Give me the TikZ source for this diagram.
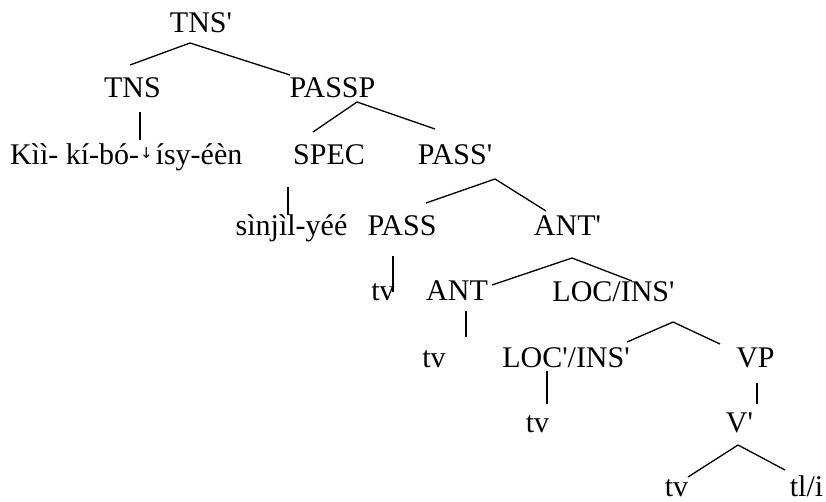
\documentclass[tikz,border=0pt]{standalone}
\usepackage{fontspec}
\setmainfont{Liberation Serif}
\newfontfamily\arrowfont{DejaVu Sans}
\newcommand{\pr}{\textquotesingle}
\begin{document}
\begin{tikzpicture}[x=1pt,y=-1pt,
  lbl/.style={inner sep=0pt,outer sep=0pt,anchor=base,font=\fontsize{30}{36}\selectfont},
  edge/.style={line width=1.3pt,line cap=butt}]
\useasboundingbox (0,0) rectangle (826,501);
% nodes
\node[lbl] (tnsp) at (201,32) {TNS\pr};
\node[lbl] (tns) at (132.5,97) {TNS};
\node[lbl] (passp) at (332.5,97) {PASSP};
\node[lbl,anchor=base west] (kii) at (10,164) {Kìì- kí-bó-\kern1pt\raisebox{6pt}{\arrowfont\fontsize{15}{15}\selectfont ↓}\kern3pt ísy-éèn};
\node[lbl] (spec) at (329,164) {SPEC};
\node[lbl] (passbar) at (455,164) {PASS\pr};
\node[lbl] (sinjil) at (291.5,235) {sìnjìl-yéé};
\node[lbl] (pass) at (402,235) {PASS};
\node[lbl] (antbar) at (567.5,235) {ANT\pr};
\node[lbl] (tv1) at (383,300) {tv};
\node[lbl] (ant) at (457,300) {ANT};
\node[lbl] (locins) at (613.5,301) {LOC/INS\pr};
\node[lbl] (tv2) at (434,367) {tv};
\node[lbl] (locbar) at (566,367) {LOC\pr/INS\pr};
\node[lbl] (vp) at (755.5,367) {VP};
\node[lbl] (tv3) at (537.5,432) {tv};
\node[lbl] (vbar) at (739.5,432) {V\pr};
\node[lbl] (tv4) at (676.5,496) {tv};
\node[lbl] (tli) at (806.5,496) {tl/i};
% connectors
\draw[edge] ([shift={(-2.5,-32)}]tns.base) -- ([shift={(-11,11)}]tnsp.base) -- ([shift={(-42.5,-22)}]passp.base);
\draw[edge] ([shift={(7.5,15)}]tns.base) -- ([shift={(130,-24)}]kii.base west);
\draw[edge] ([shift={(-16,-32)}]spec.base) -- ([shift={(24.5,5)}]passp.base) -- ([shift={(-20,-35)}]passbar.base);
\draw[edge] ([shift={(-41,23)}]spec.base) -- ([shift={(-3.5,-20)}]sinjil.base);
\draw[edge] ([shift={(24,-32)}]pass.base) -- ([shift={(40,15)}]passbar.base) -- ([shift={(-21.5,-24)}]antbar.base);
\draw[edge] ([shift={(-9,21)}]pass.base) -- ([shift={(10,-8)}]tv1.base);
\draw[edge] ([shift={(35,-15)}]ant.base) -- ([shift={(4.5,23)}]antbar.base) -- ([shift={(18.5,-20)}]locins.base);
\draw[edge] ([shift={(9,11)}]ant.base) -- ([shift={(32,-30)}]tv2.base);
\draw[edge] ([shift={(61,-25)}]locbar.base) -- ([shift={(59.5,21)}]locins.base) -- ([shift={(-35.5,-23)}]vp.base);
\draw[edge] ([shift={(-19,4)}]locbar.base) -- ([shift={(9.5,-28)}]tv3.base);
\draw[edge] ([shift={(1.5,16)}]vp.base) -- ([shift={(17.5,-28)}]vbar.base);
\draw[edge] ([shift={(11.5,-19)}]tv4.base) -- ([shift={(-1.5,13)}]vbar.base) -- ([shift={(-21.5,-26)}]tli.base);
\end{tikzpicture}
\end{document}
